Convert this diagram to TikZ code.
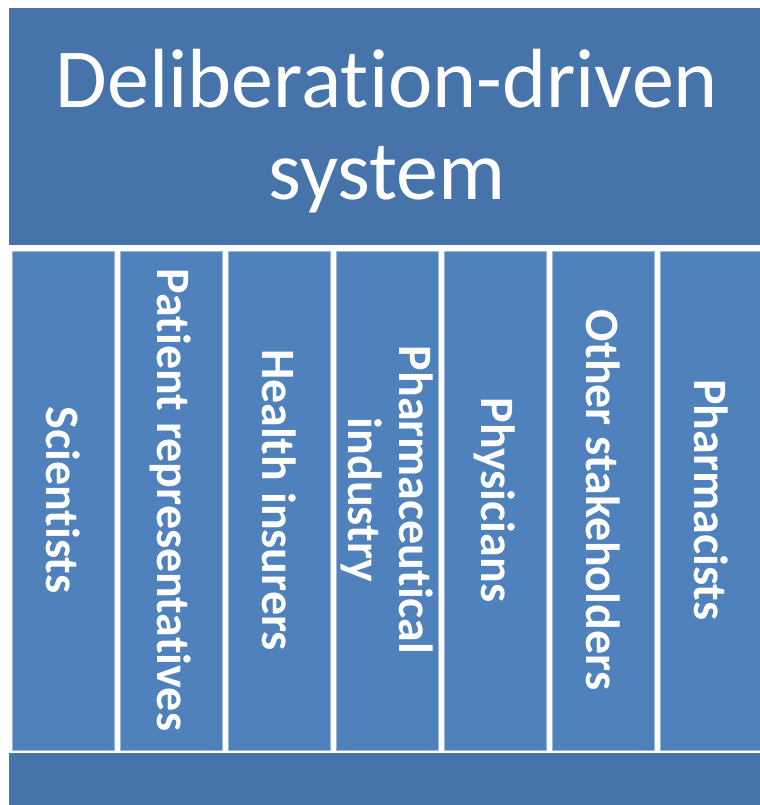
\documentclass[tikz,border=0pt]{standalone}
\usepackage{fontspec}
\setmainfont{Carlito}[Renderer=OpenType, Ligatures={NoCommon}]
\definecolor{headblue}{HTML}{4674AA}
\definecolor{colblue}{HTML}{4F81BD}
\definecolor{edgeblue}{HTML}{9DB6DA}

\begin{document}
\begin{tikzpicture}[x=0.75pt, y=-0.75pt,
	bar/.style={fill=headblue, draw=none},
	column/.style={fill=colblue, draw=edgeblue, line width=0.4pt},
	col label/.style={rotate=-90, white, align=center, font=\fontsize{36}{38.5}\selectfont\bfseries}]
	\useasboundingbox (0,0) rectangle (759,805);
	
	%header and foot bars
	\draw[bar] (9,8) rectangle (765,245);
	\draw[bar] (9,753) rectangle (765,830);
	\node[white, align=center, font=\fontsize{63}{69}\selectfont] (title) at (387,131) {Deliberation-driven\\system};
	
	%stakeholder columns
	\draw[column] (12,251) rectangle (114,750);
	\draw[column] (120,251) rectangle (222,750);
	\draw[column] (228,251) rectangle (330,750);
	\draw[column] (336,251) rectangle (438,750);
	\draw[column] (444,251) rectangle (546,750);
	\draw[column] (552,251) rectangle (654,750);
	\draw[column] (660,251) rectangle (762,750);
	
	%column labels
	\node[col label] (scientists) at (63,500) {Scientists};
	\node[col label] (patients) at (171,500) {Patient representatives};
	\node[col label] (insurers) at (279,500) {Health insurers};
	\node[col label] (industry) at (387,500) {Pharmaceutical\\industry};
	\node[col label] (physicians) at (495,500) {Physicians};
	\node[col label] (others) at (603,500) {Other stakeholders};
	\node[col label] (pharmacists) at (711,500) {Pharmacists};

\end{tikzpicture}
\end{document}
